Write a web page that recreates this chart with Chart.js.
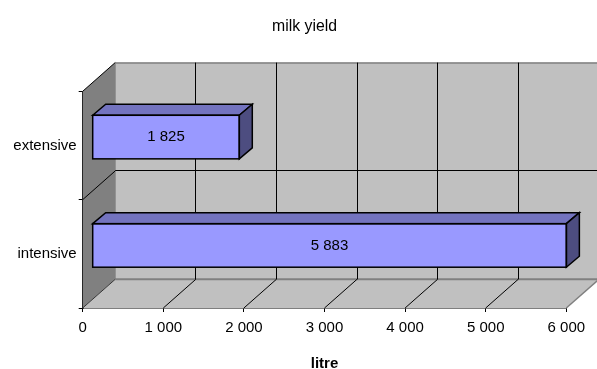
<!DOCTYPE html>
<html><head><meta charset="utf-8">
<style>html,body{margin:0;padding:0;background:#fff}canvas{display:block}</style>
<script src="https://cdn.jsdelivr.net/npm/chart.js@4"></script></head>
<body><canvas id="c" width="597" height="369"></canvas>
<script>
const categories = ["extensive", "intensive"];
const yieldValues = [1825, 5883];
const xTicks = [0, 1000, 2000, 3000, 4000, 5000, 6000];
const titleText = "milk yield";
const xTitle = "litre";
const FONT = "'Liberation Sans', Arial, sans-serif";
const fmt = v => String(v).replace(/\B(?=(\d{3})+$)/g, " ");

const DX = 32.5, DY = 28.7;      // depth of the 3D box
const BX = 9.5, BY = 8.4;        // bar offset from the front plane
const BDX = 13, BDY = 11;        // bar depth
const crisp = p => Math.floor(p) + 0.5;

function poly(ctx, pts, fill, stroke, lw) {
  ctx.beginPath();
  pts.forEach((p, i) => i ? ctx.lineTo(p[0], p[1]) : ctx.moveTo(p[0], p[1]));
  ctx.closePath();
  if (fill) { ctx.fillStyle = fill; ctx.fill(); }
  if (stroke) { ctx.strokeStyle = stroke; ctx.lineWidth = lw || 1; ctx.stroke(); }
}
function line(ctx, x1, y1, x2, y2, color, lw) {
  ctx.beginPath(); ctx.moveTo(x1, y1); ctx.lineTo(x2, y2);
  ctx.strokeStyle = color; ctx.lineWidth = lw || 1; ctx.stroke();
}

const box3d = {
  id: "box3d",
  afterLayout(chart) {
    if (chart.titleBlock) { chart.titleBlock.left = 43; chart.titleBlock.right = 566; }
  },
  beforeDatasetsDraw(chart) {
    const { ctx, chartArea: a, scales: { x, y } } = chart;
    const L = a.left, R = a.right, T = a.top, B = a.bottom;
    ctx.save();
    poly(ctx, [[L + DX, T - DY], [R + DX, T - DY], [R + DX, B - DY], [L + DX, B - DY]], "#c0c0c0");
    poly(ctx, [[L, T], [L + DX, T - DY], [L + DX, B - DY], [L, B]], "#808080");
    poly(ctx, [[L, B], [R, B], [R + DX, B - DY], [L + DX, B - DY]], "#c0c0c0");
    line(ctx, L + DX, T - DY + 0.5, R + DX, T - DY + 0.5, "#808080", 1.5);
    line(ctx, L + DX, B - DY, R + DX, B - DY, "#808080", 2);
    line(ctx, L + DX, T - DY, L + DX, B - DY, "#808080", 1);
    line(ctx, R, B, R + DX, B - DY, "#808080", 1.5);
    xTicks.forEach(v => {
      if (v === 0 || v === xTicks[xTicks.length - 1]) return;
      const px = x.getPixelForValue(v);
      line(ctx, crisp(px + DX), T - DY, crisp(px + DX), B - DY, "#000", 1);
      line(ctx, px, B, px + DX, B - DY, "#000", 1);
    });
    const mid = (y.getPixelForValue(0) + y.getPixelForValue(1)) / 2;
    line(ctx, L + DX, crisp(mid - DY), R + DX, crisp(mid - DY), "#000", 1);
    line(ctx, L, mid, L + DX, mid - DY, "#000", 1);
    line(ctx, L, T, L + DX, T - DY, "#000", 1);
    line(ctx, L, B, L + DX, B - DY, "#333", 1);
    ctx.restore();
  },
  beforeDatasetDraw(chart) {
    chart.ctx.save();
    chart.ctx.translate(BX, -BY);
  },
  afterDatasetDraw(chart, args) {
    const ctx = chart.ctx;
    args.meta.data.forEach((bar, i) => {
      const h = bar.height, l = bar.base, r = bar.x, t = bar.y - h / 2, b = bar.y + h / 2;
      poly(ctx, [[l, t], [l + BDX, t - BDY], [r + BDX, t - BDY], [r, t]], "#7373bf", "#000", 1.5);
      poly(ctx, [[r, t], [r + BDX, t - BDY], [r + BDX, b - BDY], [r, b]], "#4d4d80", "#000", 1.5);
      ctx.strokeStyle = "#000"; ctx.lineWidth = 1.5;
      ctx.strokeRect(l, t, r - l, h);
      ctx.fillStyle = "#000";
      ctx.font = "15px " + FONT;
      ctx.textAlign = "center"; ctx.textBaseline = "middle";
      ctx.fillText(fmt(yieldValues[i]), (l + r) / 2, bar.y);
    });
    ctx.restore();
  }
};

new Chart(document.getElementById("c"), {
  type: "bar",
  plugins: [box3d],
  data: {
    labels: categories,
    datasets: [{
      label: "milk yield",
      data: yieldValues,
      backgroundColor: "#9999ff",
      borderWidth: 0,
      categoryPercentage: 1,
      barPercentage: 0.402,
      clip: false
    }]
  },
  options: {
    indexAxis: "y",
    responsive: false,
    animation: false,
    events: [],
    layout: { padding: { left: 0, right: 30.7, top: 0, bottom: 0 } },
    plugins: {
      legend: { display: false },
      tooltip: { enabled: false },
      title: {
        display: true, text: titleText, color: "#000",
        font: { family: FONT, size: 15.8, weight: "normal", lineHeight: 1.2 },
        padding: { top: 17, bottom: 91.3 - 17 - 18.96 }
      }
    },
    scales: {
      x: {
        type: "linear", min: 0, max: 6000,
        afterFit(s) { s.height = 369 - 308; },
        afterBuildTicks(s) { s.ticks = xTicks.map(v => ({ value: v })); },
        grid: { drawOnChartArea: false, drawTicks: true, tickLength: 4, color: "#000", lineWidth: 1 },
        border: { display: true, color: "#000", width: 1.5 },
        ticks: {
          color: "#000", padding: 7, maxRotation: 0, autoSkip: false,
          font: { family: FONT, size: 15 },
          callback: v => fmt(v)
        },
        title: {
          display: true, text: xTitle, color: "#000",
          font: { family: FONT, size: 15, weight: "bold" },
          padding: { top: 0, bottom: -4 }
        }
      },
      y: {
        afterFit(s) { s.width = 82.7; },
        grid: { offset: true, drawOnChartArea: false, drawTicks: true, tickLength: 4, color: "#000", lineWidth: 1 },
        border: { display: true, color: "#000", width: 1.5 },
        ticks: { color: "#000", padding: 2, font: { family: FONT, size: 15 } }
      }
    }
  }
});
</script></body></html>
